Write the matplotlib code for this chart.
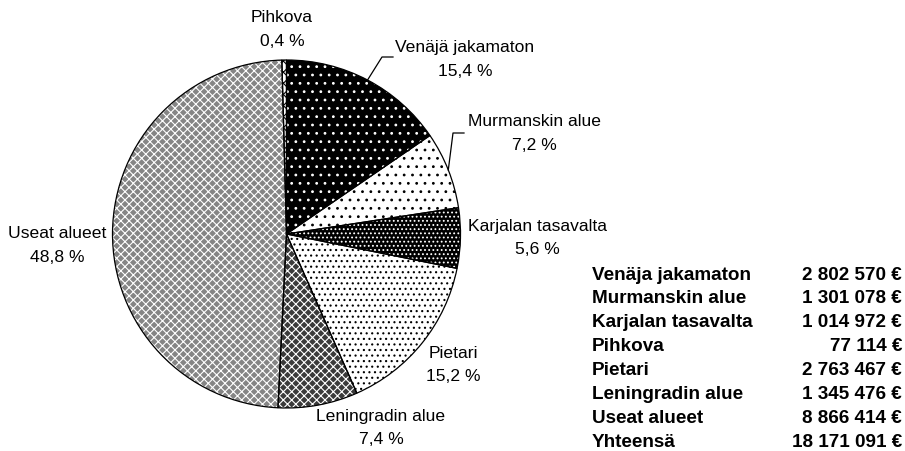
import numpy as np
import matplotlib.pyplot as plt

plt.rcParams['font.family'] = ['Liberation Sans', 'DejaVu Sans']
plt.rcParams['hatch.linewidth'] = 0.8

# data (table order)
regions = ["Venäja jakamaton", "Murmanskin alue", "Karjalan tasavalta", "Pihkova",
           "Pietari", "Leningradin alue", "Useat alueet"]
pie_labels = ["Venäjä jakamaton", "Murmanskin alue", "Karjalan tasavalta", "Pihkova",
              "Pietari", "Leningradin alue", "Useat alueet"]
values = [2802570, 1301078, 1014972, 77114, 2763467, 1345476, 8866414]
total_label = "Yhteensä"

# order of the slices clockwise from 12 o'clock
pie_order = [0, 1, 2, 4, 5, 6, 3]

# fill styles: face, hatch colour, hatch
styles = {
    0: ('black', 'white', '..'),
    1: ('white', 'black', '..'),
    2: ('black', 'white', '....'),
    3: ('white', 'black', 'xxx'),
    4: ('white', 'black', '...'),
    5: ('#3a3a3a', 'white', 'xxxx'),
    6: ('#858585', 'white', 'xxxx'),
}

W, H = 905, 452
cx, cy, R = 286.5, 235, 174

# label anchor (pixel x centre, first line baseline)
label_pos = {
    0: (465, 53),
    1: (534, 126.5),
    2: (537, 231.5),
    3: (282, 22.5),
    4: (453, 358.5),
    5: (381, 421.5),
    6: (57, 238.5),
}
line_gap = 23
# leader lines: elbow and end points in pixels
leaders = {
    0: [(382, 58), (393, 58)],
    1: [(453, 134), (464, 134)],
}


def to_data(p):
    return ((p[0] - cx) / R, (cy - p[1]) / R)


fig = plt.figure(figsize=(W / 100, H / 100), dpi=100)
ax = fig.add_axes([(cx - R) / W, (H - cy - R) / H, 2 * R / W, 2 * R / H])

vals = [values[i] for i in pie_order]
wedges, _ = ax.pie(vals, startangle=90, counterclock=False,
                   wedgeprops=dict(linewidth=0))
for w, idx in zip(wedges, pie_order):
    face, hc, hatch = styles[idx]
    w.set_facecolor(face)
    w.set_edgecolor(hc)
    w.set_hatch(hatch)
    w.set_clip_on(False)

outline, _ = ax.pie(vals, startangle=90, counterclock=False,
                    wedgeprops=dict(facecolor='none', edgecolor='black', linewidth=0.9))
for w in outline:
    w.set_clip_on(False)

ax.set_xlim(-1, 1)
ax.set_ylim(-1, 1)
ax.set_aspect('auto')

total = sum(values)
for w, idx in zip(wedges, pie_order):
    pct = values[idx] / total * 100
    txt = pie_labels[idx] + "\n" + f"{pct:.1f}".replace(".", ",") + " %"
    px, py = label_pos[idx]
    x, y = to_data((px, py + line_gap))
    ax.text(x, y, txt, ha='center', va='baseline', fontsize=12.6,
            linespacing=1.72, multialignment='center')
    if idx in leaders:
        mid = np.deg2rad((w.theta1 + w.theta2) / 2)
        pts = [(np.cos(mid), np.sin(mid))] + [to_data(p) for p in leaders[idx]]
        ax.plot([p[0] for p in pts], [p[1] for p in pts], color='black',
                lw=0.9, clip_on=False)

# table on the right
names = regions + [total_label]
amounts = values + [total]
for i, (n, a) in enumerate(zip(names, amounts)):
    yb = 1 - (279.5 + 23.86 * i) / H
    fig.text(592 / W, yb, n, ha='left', va='baseline', fontsize=13.6, fontweight='bold')
    fig.text(902 / W, yb, f"{a:,}".replace(",", " ") + " €", ha='right', va='baseline',
             fontsize=13.6, fontweight='bold')

fig.savefig("out.png", dpi=100)
